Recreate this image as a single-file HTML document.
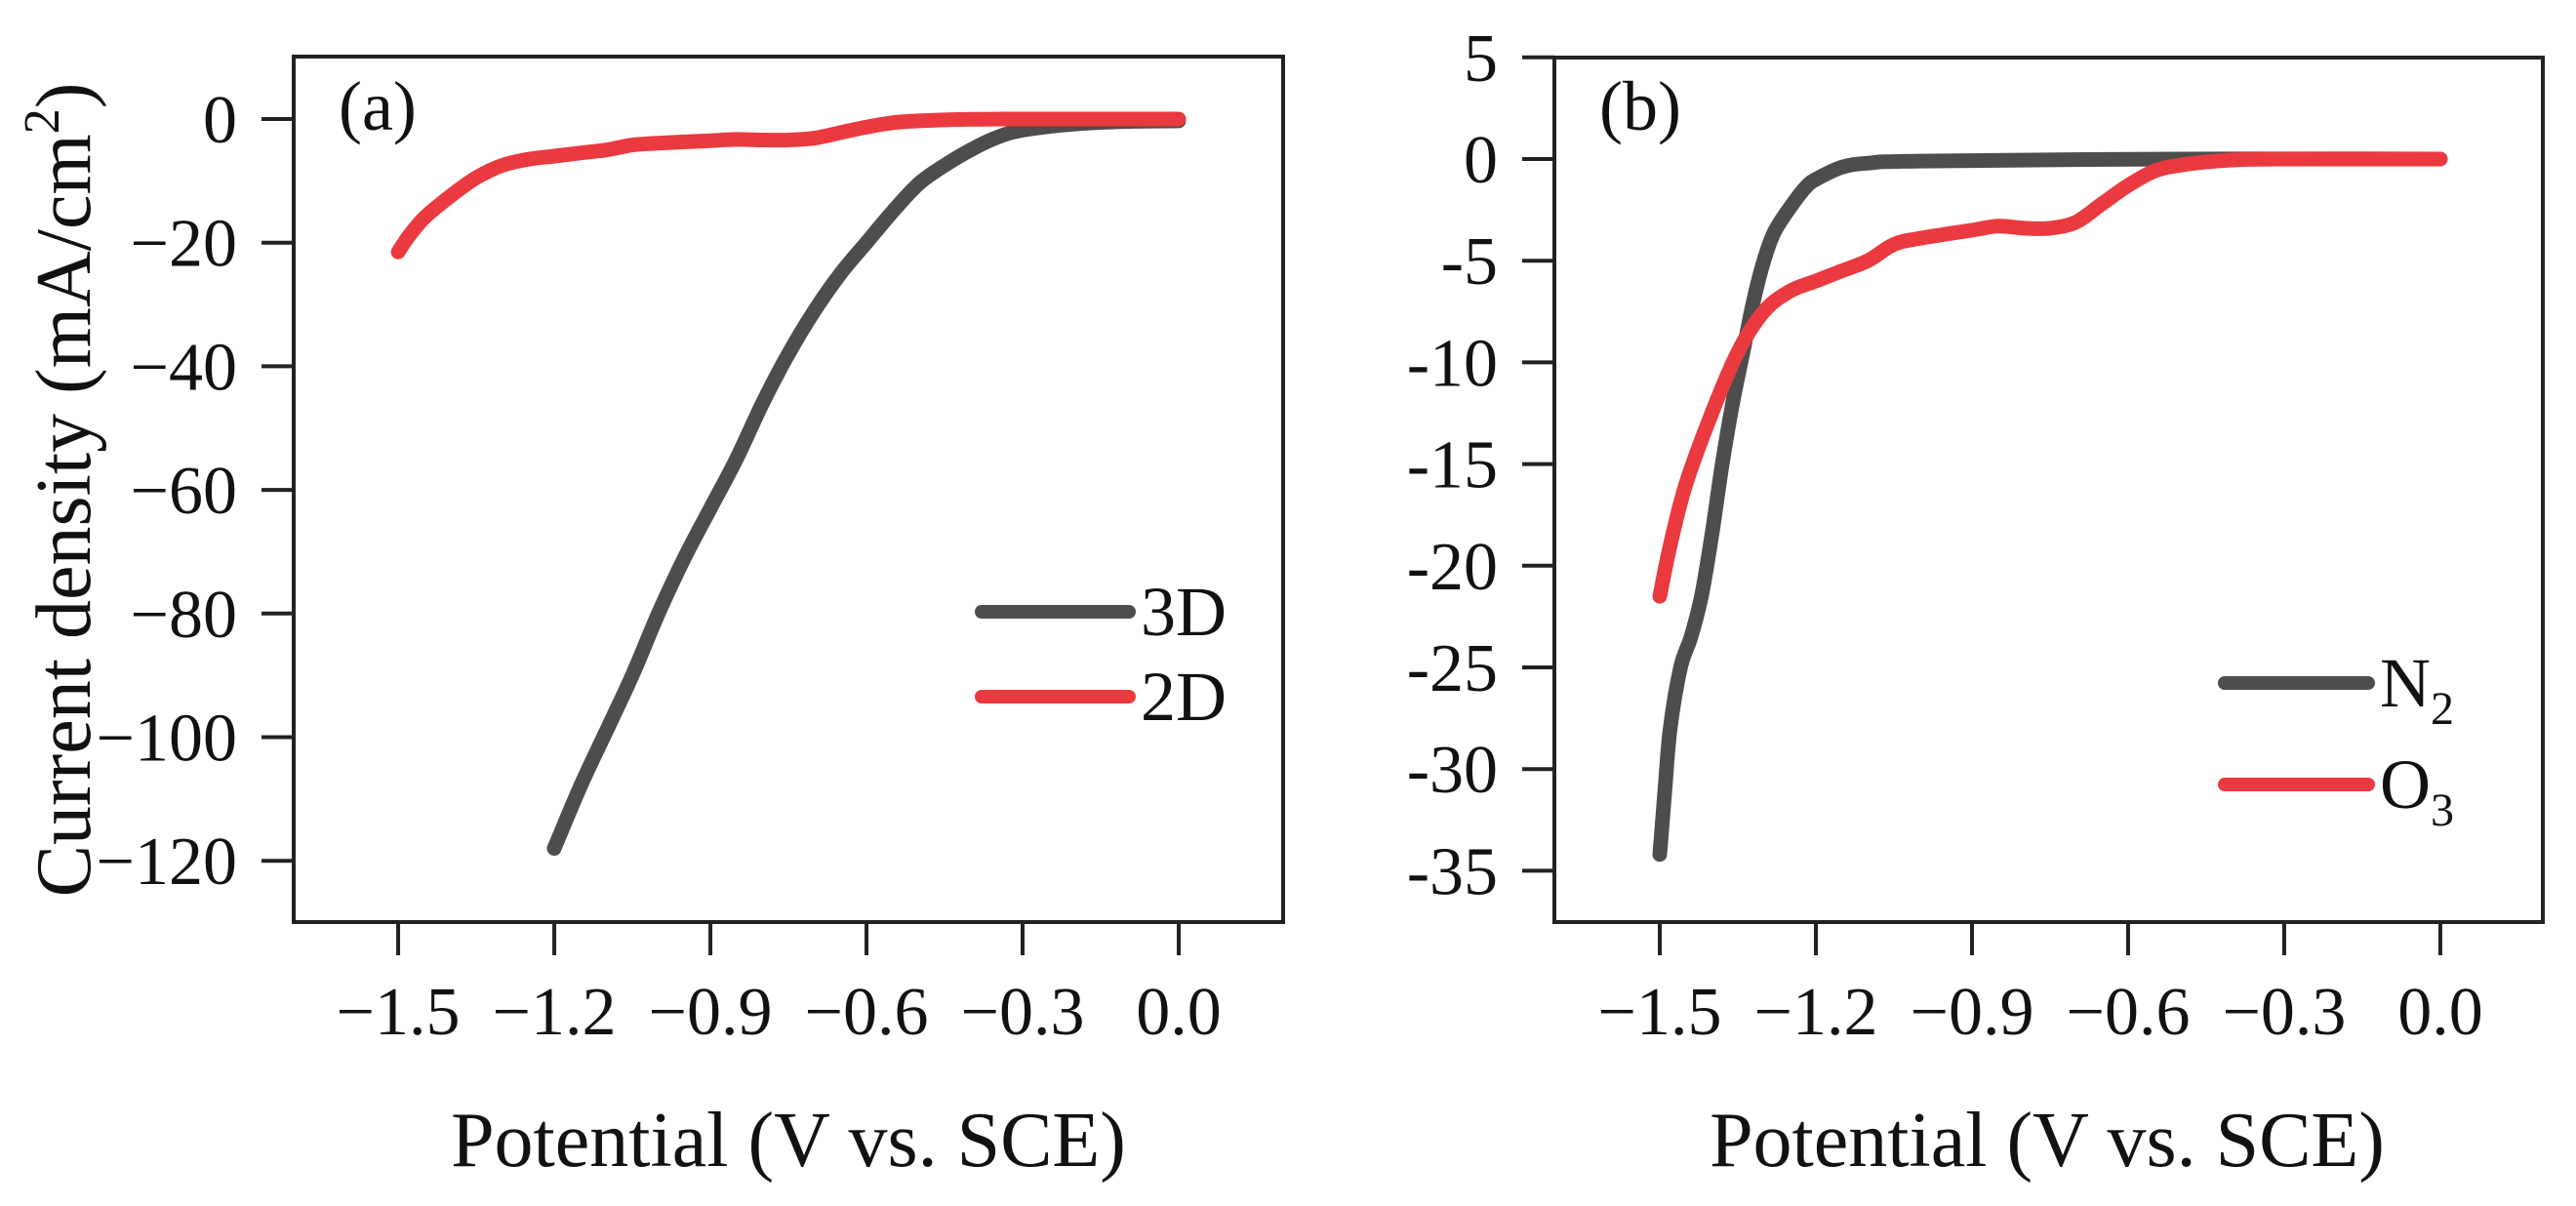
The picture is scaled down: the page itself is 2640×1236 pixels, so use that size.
<!DOCTYPE html>
<html><head><meta charset="utf-8"><style>
html,body{margin:0;padding:0;background:#fff;}
svg{display:block;font-family:"Liberation Serif",serif;}
</style></head><body>
<svg id="fig" width="2640" height="1236" viewBox="0 0 2640 1236" xmlns="http://www.w3.org/2000/svg"></svg>
<script>
// Panel (a) data
const aTicksX = [-1.5, -1.2, -0.9, -0.6, -0.3, 0.0];
const aTickLabelsX = ["\u22121.5","\u22121.2","\u22120.9","\u22120.6","\u22120.3","0.0"];
const aTicksY = [0, -20, -40, -60, -80, -100, -120];
const aTickLabelsY = ["0","\u221220","\u221240","\u221260","\u221280","\u2212100","\u2212120"];
const a3dX = [-1.2,-1.15,-1.1,-1.05,-1.0,-0.95,-0.9,-0.85,-0.8,-0.75,-0.7,-0.65,-0.6,-0.55,-0.5,-0.45,-0.4,-0.35,-0.3,-0.2,-0.1,0];
const a3dY = [-118,-108,-99,-90,-80,-71,-63,-55,-46,-38,-31,-25,-20,-15,-10.5,-7.5,-5,-3,-1.8,-0.8,-0.4,-0.3];
const a2dX = [-1.5,-1.48,-1.45,-1.4,-1.35,-1.3,-1.25,-1.2,-1.15,-1.1,-1.05,-1.0,-0.9,-0.85,-0.8,-0.75,-0.7,-0.65,-0.6,-0.55,-0.5,-0.4,-0.3,0];
const a2dY = [-21.5,-19,-16,-12.5,-9.5,-7.5,-6.5,-6,-5.5,-5,-4.2,-3.9,-3.5,-3.3,-3.4,-3.4,-3.1,-2.2,-1.3,-0.6,-0.3,-0.05,0,0];
// Panel (b) data
const bTicksX = [-1.5, -1.2, -0.9, -0.6, -0.3, 0.0];
const bTickLabelsX = ["\u22121.5","\u22121.2","\u22120.9","\u22120.6","\u22120.3","0.0"];
const bTicksY = [5, 0, -5, -10, -15, -20, -25, -30, -35];
const bTickLabelsY = ["5","0","-5","-10","-15","-20","-25","-30","-35"];
const n2X = [-1.5,-1.49,-1.48,-1.46,-1.44,-1.42,-1.4,-1.38,-1.36,-1.34,-1.32,-1.3,-1.28,-1.25,-1.22,-1.2,-1.15,-1.1,-1.0,-0.5,0];
const n2Y = [-34.2,-31,-28,-25,-23.5,-21.5,-18.5,-15,-12,-9.5,-7,-5,-3.6,-2.4,-1.4,-1,-0.4,-0.2,-0.1,0,0];
const o3X = a2dX;
const o3Y = a2dY;

const NS = "http://www.w3.org/2000/svg";
const svg = document.getElementById('fig');
function mk(tag, attrs, parent){ const e=document.createElementNS(NS,tag); for(const k in attrs) e.setAttribute(k,attrs[k]); (parent||svg).appendChild(e); return e; }

function smoothPath(pts){
  let d='M'+pts[0][0].toFixed(1)+','+pts[0][1].toFixed(1);
  for(let i=0;i<pts.length-1;i++){
    const p0=pts[Math.max(0,i-1)],p1=pts[i],p2=pts[i+1],p3=pts[Math.min(pts.length-1,i+2)];
    const c1x=p1[0]+(p2[0]-p0[0])/6,c1y=p1[1]+(p2[1]-p0[1])/6;
    const c2x=p2[0]-(p3[0]-p1[0])/6,c2y=p2[1]-(p3[1]-p1[1])/6;
    d+=' C'+c1x.toFixed(1)+','+c1y.toFixed(1)+' '+c2x.toFixed(1)+','+c2y.toFixed(1)+' '+p2[0].toFixed(1)+','+p2[1].toFixed(1);
  }
  return d;
}

function panel(cfg){
  const g = mk('g',{});
  
  
  const sx = v => cfg.x0 + (v - cfg.vx0) * cfg.kx;
  const sy = v => cfg.y0 - (v - cfg.vy0) * cfg.ky;
  const fr = mk('rect',{x:cfg.L,y:cfg.T,width:cfg.R-cfg.L,height:cfg.B-cfg.T,fill:'none',stroke:'#222','stroke-width':4},g);
  
  
  cfg.tx.forEach((v,i)=>{
    const x=sx(v);
    const t=mk('line',{x1:x,y1:cfg.B,x2:x,y2:cfg.B+34,stroke:'#222','stroke-width':4},g);
    
    
    const l=mk('text',{x:x,y:1060,'font-size':70,'text-anchor':'middle',fill:'#111'},g);
    l.textContent=cfg.txl[i];
    
    
  });
  cfg.ty.forEach((v,i)=>{
    const y=sy(v);
    const t=mk('line',{x1:cfg.L-33,y1:y,x2:cfg.L,y2:y,stroke:'#222','stroke-width':4},g);
    
    
    const l=mk('text',{x:cfg.L-58,y:y+24,'font-size':70,'text-anchor':'end',fill:'#111'},g);
    l.textContent=cfg.tyl[i];
    
    
  });
  cfg.series.forEach(s=>{
    const pts=s.x.map((v,i)=>[sx(v),sy(s.y[i])]);
    const p=mk('path',{d:smoothPath(pts),fill:'none',stroke:s.color,'stroke-width':15,'stroke-linecap':'round','stroke-linejoin':'round'},g);
    
    
    const ll=mk('line',{x1:s.lx1,y1:s.ly,x2:s.lx2,y2:s.ly,stroke:s.color,'stroke-width':14,'stroke-linecap':'round'},g);
    
    
    const lt=mk('text',{x:s.lx2+12,y:s.ly+24,'font-size':72,fill:'#111'},g);
    
    
    lt.textContent=s.label;
    if(s.sub){ const ts=mk('tspan',{'font-size':48,dy:18},lt); ts.textContent=s.sub; }
  });
  const pl=mk('text',{x:cfg.L+46,y:133,'font-size':72,fill:'#111'},g);
  pl.textContent=cfg.panelLabel;
  
  
  const xt=mk('text',{x:cfg.xtc,y:1195,'font-size':80,'text-anchor':'middle',fill:'#111'},g);
  xt.textContent='Potential (V vs. SCE)';
  
  
}

panel({name:'panel-a',L:301,R:1315,T:58,B:945,x0:1208,vx0:0,kx:533.3,y0:122,vy0:0,ky:6.335,
  tx:aTicksX,txl:aTickLabelsX,ty:aTicksY,tyl:aTickLabelsY,panelLabel:'(a)',xtc:808,
  series:[
    {name:'series-3d',x:a3dX,y:a3dY,color:'#4d4d4d',label:'3D',lx1:1006,lx2:1157,ly:627},
    {name:'series-2d',x:a2dX,y:a2dY,color:'#ea3a3f',label:'2D',lx1:1006,lx2:1157,ly:714}
  ]});
panel({name:'panel-b',L:1593,R:2606,T:59,B:945,x0:1701,vx0:-1.5,kx:533.3,y0:163,vy0:0,ky:20.84,
  tx:bTicksX,txl:bTickLabelsX,ty:bTicksY,tyl:bTickLabelsY,panelLabel:'(b)',xtc:2098,
  series:[
    {name:'series-n2',x:n2X,y:n2Y,color:'#4d4d4d',label:'N',sub:'2',lx1:2280,lx2:2427,ly:700},
    {name:'series-o3',x:o3X,y:o3Y,color:'#ea3a3f',label:'O',sub:'3',lx1:2280,lx2:2427,ly:804}
  ]});

const yt=mk('text',{x:0,y:0,'font-size':80,'text-anchor':'middle',fill:'#111',transform:'translate(92,502) rotate(-90)'});


yt.appendChild(document.createTextNode('Current density (mA/cm'));
const sup=mk('tspan',{'font-size':52,dy:-32},yt); sup.textContent='2';
const cl=mk('tspan',{dy:32},yt); cl.textContent=')';
</script>
</body></html>
